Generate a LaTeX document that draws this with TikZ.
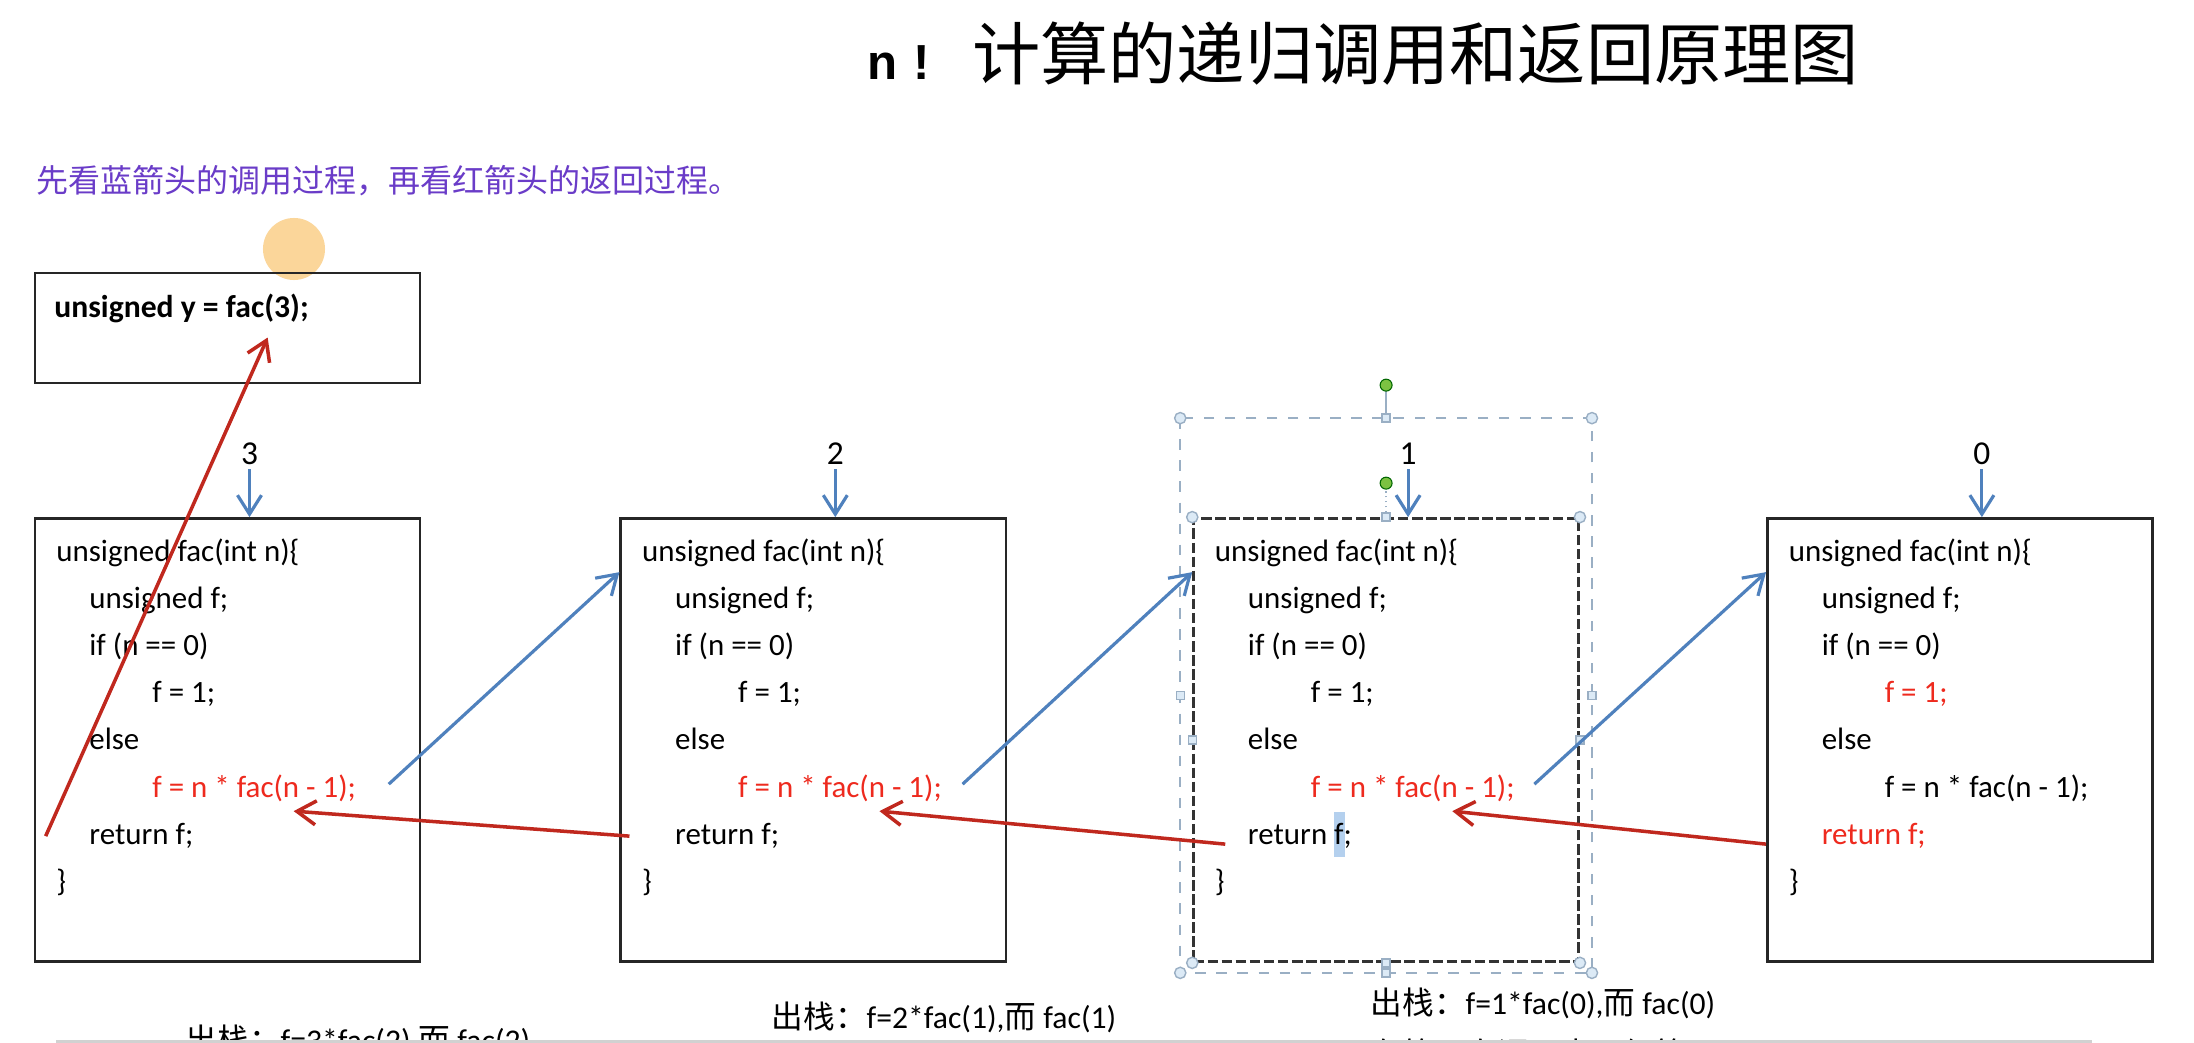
\documentclass[tikz,border=0pt]{standalone}
\usepackage{fontspec}
\setmainfont{Carlito}
\newfontfamily\cjk{Noto Sans CJK SC}
\newfontfamily\headfont{Liberation Sans}
\usetikzlibrary{arrows.meta,calc,positioning}
\definecolor{callblue}{HTML}{4F81BD}
\definecolor{retred}{HTML}{C0281E}
\definecolor{codered}{HTML}{EE2A1E}
\definecolor{notepurple}{HTML}{6A3CC8}
\definecolor{handleblue}{HTML}{9AAFC4}
\definecolor{handlefill}{HTML}{DCEAF6}
\definecolor{rotgreen}{HTML}{7CC242}
\definecolor{cursorglow}{HTML}{FBD69A}
\definecolor{markblue}{HTML}{B4D0EE}

\begin{document}
\begin{tikzpicture}[
  x=0.01cm,y=-0.01cm,
  >={Straight Barb[length=1.9mm,width=2.4mm]},
  codebox/.style={draw=black!85,line width=0.7pt,minimum width=3.85cm,minimum height=4.43cm,inner sep=0pt},
  codeline/.style={anchor=base west,inner sep=0pt},
  numlabel/.style={inner sep=1pt,font=\fontsize{9.5}{11}\selectfont},
  call/.style={callblue,line width=0.9pt,->},
  ret/.style={retred,line width=1pt,->},
  popnote/.style={anchor=west,inner sep=0pt,font=\fontsize{9}{11}\selectfont},
  selframe/.style={handleblue,dashed,line width=0.5pt},
  handle/.style={draw=handleblue,fill=handlefill,line width=0.4pt},
  every node/.style={font=\fontsize{8.8}{10.5}\selectfont}
]
  \fill[white] (0,0) rectangle (2194,1043);
  \useasboundingbox (0,0) rectangle (2194,1043);

  % heading and hint
  \node[anchor=base west,inner sep=0pt] (title) at (867,80)
    {{\headfont\bfseries\fontsize{14}{16}\selectfont n\hspace{4.5pt}!}\hspace{12pt}{\cjk\fontsize{19.4}{23}\selectfont 计算的递归调用和返回原理图}};
  \node[anchor=west,inner sep=0pt,text=notepurple,font=\cjk\fontsize{9.1}{11}\selectfont] (hint) at (36,181)
    {先看蓝箭头的调用过程，再看红箭头的返回过程。};
  \fill[cursorglow] (294,249) circle[radius=0.31cm];

  % frames
  \node[codebox] (fac1) at (227.5,740) {};
  \node[codebox,right=1.98cm of fac1] (fac2) {};
  \node[codebox,right=1.85cm of fac2,draw=black!80,dash pattern=on 3pt off 1pt] (fac3) {};
  \node[codebox,right=1.86cm of fac3] (fac4) {};
  \node[codebox,minimum height=1.1cm,above=1.33cm of fac1] (caller) {};
  \node[codeline,font=\bfseries\fontsize{9}{11}\selectfont] (callline) at ($(caller.north west)+(20,46)$) {unsigned y = fac(3);};

  % selection of the third frame
  \coordinate (selnw) at ($(fac3.north west)+(-12,-99)$);
  \coordinate (selse) at ($(fac3.south east)+(12,10)$);
  \draw[selframe] (selnw) rectangle (selse);
  \coordinate (selmt) at (fac3.north |- selnw);
  \coordinate (selmb) at (fac3.south |- selse);
  \coordinate (selml) at ($(selnw)!0.5!(selnw |- selse)$);
  \coordinate (selmr) at ($(selse)!0.5!(selse |- selnw)$);
  \draw[handleblue,line width=0.4pt] (selmt) -- ++(0,-33) coordinate (rot1);
  \draw[handleblue,densely dotted] (fac3.north) -- ++(0,-34) coordinate (rot2);
  \foreach \p in {selmt,selmb,selml,selmr,fac3.north,fac3.south,fac3.west,fac3.east}
    \draw[handle] ($(\p)+(-4,-4)$) rectangle ($(\p)+(4,4)$);
  \foreach \p in {selnw,selse,selnw -| selse,selnw |- selse,fac3.north west,fac3.north east,fac3.south west,fac3.south east}
    \draw[handle] (\p) circle[radius=1.6pt];
  \foreach \p in {rot1,rot2}
    \fill[rotgreen,draw=green!40!black,line width=0.3pt] (\p) circle[radius=1.7pt];
  \fill[markblue] ($(fac3.north west)+(142,295)$) rectangle ($(fac3.north west)+(153,340)$);

  % code of each call
  \foreach \n/\ca/\cb/\cc in {1/black/codered/black,2/black/codered/black,3/black/codered/black,4/codered/black/codered}{
    \node[codeline] (fac\n-1) at ($(fac\n.north west)+(22,44)$) {unsigned fac(int n)\{};
    \node[codeline] (fac\n-2) at ($(fac\n.north west)+(55,91)$) {unsigned f;};
    \node[codeline] (fac\n-3) at ($(fac\n.north west)+(55,138)$) {if (n == 0)};
    \node[codeline,text=\ca] (fac\n-4) at ($(fac\n.north west)+(118,185)$) {f = 1;};
    \node[codeline] (fac\n-5) at ($(fac\n.north west)+(55,232)$) {else};
    \node[codeline,text=\cb] (fac\n-6) at ($(fac\n.north west)+(118,280)$) {f = n * fac(n - 1);};
    \node[codeline,text=\cc] (fac\n-7) at ($(fac\n.north west)+(55,327)$) {return f;};
    \node[codeline] (fac\n-8) at ($(fac\n.north west)+(22,374)$) {\}};
  }

  % argument passed in
  \foreach \n/\v in {1/3,2/2,3/1,4/0}{
    \node[numlabel] (num\n) at ($(fac\n.north)+(22,-63)$) {\v};
    \draw[call] (num\n.south) -- (num\n.south |- fac\n.north);
  }

  % calls (blue) and returns (red)
  \foreach \src/\dst/\dx in {1/2/32,2/3/20,3/4/19}
    \draw[call] ($(fac\src-6.base east)+(\dx,-13)$) -- ($(fac\dst.north west)+(0,55)$);
  \foreach \src/\dst/\dx/\dy in {2/1/10/-8,3/2/33/0,4/3/0/0}
    \draw[ret] ($(fac\src.west |- fac\src-7.base)+(\dx,\dy)$) -- ($(fac\dst-6.base west)+(142,14)$);
  \draw[ret] ($(fac1.west |- fac1-7.base)+(12,-8)$) -- ($(callline.base west)+(214,20)$);

  % pop notes
  \node[popnote] (pop3) at (185,1040) {{\cjk 出栈：}f=3*fac(2),{\cjk 而} fac(2)};
  \node[popnote] (pop2) at (771,1017) {{\cjk 出栈：}f=2*fac(1),{\cjk 而} fac(1)};
  \node[popnote] (pop1) at (1370,1003) {{\cjk 出栈：}f=1*fac(0),{\cjk 而} fac(0)};
  \node[popnote] (pop1b) at ($(pop1.west)+(0,50)$) {\cjk 在第四次调用中已经算};

  \fill[black!18] (56,1040) rectangle (2092,1043);
\end{tikzpicture}
\end{document}
